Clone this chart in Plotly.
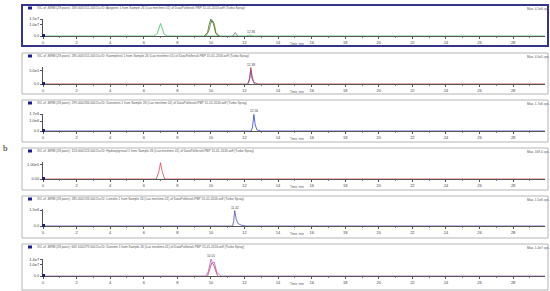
import plotly.graph_objects as go

W, H = 550, 291

# ---- data ----
titles = [
    "XIC of -MRM (28 pairs): 269.000/151.000 Da ID: Apigenin 1 from Sample 26 (Luo meshme 01) of DataPolifenoli.PBP 15-01-2016.wiff (Turbo Spray)",
    "XIC of -MRM (28 pairs): 285.000/151.000 Da ID: Kaempferol 1 from Sample 26 (Luo meshme 01) of DataPolifenoli.PBP 15-01-2016.wiff (Turbo Spray)",
    "XIC of -MRM (28 pairs): 299.000/284.000 Da ID: Diosmetin 1 from Sample 26 (Luo meshme 01) of DataPolifenoli.PBP 15-01-2016.wiff (Turbo Spray)",
    "XIC of -MRM (28 pairs): 153.000/123.000 Da ID: Hydroxytyrosol 1 from Sample 26 (Luo meshme 01) of DataPolifenoli.PBP 15-01-2016.wiff (Turbo Spray)",
    "XIC of -MRM (28 pairs): 285.000/133.000 Da ID: Luteolin 1 from Sample 26 (Luo meshme 01) of DataPolifenoli.PBP 15-01-2016.wiff (Turbo Spray)",
    "XIC of -MRM (28 pairs): 609.100/279.000 Da ID: Diosmin 1 from Sample 26 (Luo meshme 01) of DataPolifenoli.PBP 15-01-2016.wiff (Turbo Spray)",
]
max_labels = ["Max. 4.5e6 cps.", "Max. 4.0e5 cps.", "Max. 1.7e6 cps.",
              "Max. 169.0 cps.", "Max. 1.5e6 cps.", "Max. 1.4e7 cps."]

y_max = [1.5e7, 6.2e5, 1.7e6, 1.15e5, 1.6e6, 1.45e7]
y_tickvals = [[0, 1.0e7, 1.5e7], [0, 5.0e5], [0, 1.0e6, 1.7e6],
              [0, 1.0e5], [0, 1.5e6], [0, 1.0e7, 1.4e7]]
y_ticktext = [["0.0", "1.0e7", "1.5e7"], ["0.0", "5.0e5"], ["0.0", "1.0e6", "1.7e6"],
              ["0.00", "1.00e5"], ["0.0", "1.5e6"], ["0.0", "1.0e7", "1.4e7"]]
x_ticks = list(range(0, 29, 2))

# panel 1
p1_green_t = [0, 6.6, 6.8, 6.9, 7.0, 7.1, 7.2, 7.4, 12.1, 12.3, 12.5, 29.9]
p1_green_i = [0, 0, 2.0e6, 7.0e6, 1.1e7, 7.0e6, 2.0e6, 0, 0, 9.0e5, 0, 0]
p1_dark_t = [9.6, 9.8, 9.9, 10.0, 10.05, 10.1, 10.2, 10.3, 10.5]
p1_dark_i = [0, 3.0e6, 1.0e7, 1.5e7, 1.2e7, 1.35e7, 8.0e6, 2.0e6, 0]
p1_olive_t = [9.7, 9.9, 10.0, 10.1, 10.2, 10.3, 10.5]
p1_olive_i = [0, 5.0e6, 1.2e7, 1.3e7, 1.1e7, 3.0e6, 0]
p1_small_t = [11.3, 11.45, 11.6]
p1_small_i = [0, 3.0e6, 0]
# panel 2
p2_red_t = [0, 12.2, 12.3, 12.38, 12.45, 12.55, 12.8, 29.9]
p2_red_i = [0, 0, 2.0e5, 6.0e5, 3.0e5, 6.0e4, 0, 0]
p2_purple_t = [12.2, 12.3, 12.38, 12.45, 12.6]
p2_purple_i = [0, 1.5e5, 5.0e5, 2.0e5, 0]
# panel 3
p3_t = [0, 12.4, 12.48, 12.56, 12.64, 12.75, 13.0, 29.9]
p3_i = [0, 0, 4.0e5, 1.65e6, 6.0e5, 1.0e5, 0, 0]
# panel 4
p4_t = [0, 6.75, 6.9, 7.0, 7.1, 7.25, 29.9]
p4_i = [0, 0, 5.0e4, 1.1e5, 5.0e4, 0, 0]
# panel 5
p5_t = [0, 11.3, 11.36, 11.42, 11.5, 11.6, 11.8, 12.1, 29.9]
p5_i = [0, 0, 5.0e5, 1.45e6, 7.0e5, 2.5e5, 8.0e4, 0, 0]
# panel 6
p6_purple_t = [0, 9.7, 9.85, 9.95, 10.01, 10.1, 10.2, 10.35, 10.6, 29.9]
p6_purple_i = [0, 0, 4.0e6, 1.2e7, 1.45e7, 1.1e7, 1.2e7, 3.0e6, 0, 0]
p6_red_t = [9.8, 9.95, 10.05, 10.15, 10.25, 10.4]
p6_red_i = [0, 8.0e6, 1.1e7, 1.0e7, 6.0e6, 0]

peak_labels = [(12.36, 9.0e5, "12.36"), (12.38, 6.0e5, "12.38"), (12.56, 1.65e6, "12.56"),
               None, (11.42, 1.45e6, "11.42"), (10.01, 1.45e7, "10.01")]

panel_traces = [
    [(p1_green_t, p1_green_i, "#3cc45a"), (p1_olive_t, p1_olive_i, "#8a8a2a"),
     (p1_dark_t, p1_dark_i, "#2f6b2f"), (p1_small_t, p1_small_i, "#707070")],
    [(p2_red_t, p2_red_i, "#b03030"), (p2_purple_t, p2_purple_i, "#8a4aa0")],
    [(p3_t, p3_i, "#3045c8")],
    [(p4_t, p4_i, "#e04848")],
    [(p5_t, p5_i, "#5050b8")],
    [(p6_purple_t, p6_purple_i, "#b060c8"), (p6_red_t, p6_red_i, "#c04060")],
]

# ---- geometry (pixels) ----
frame_top = [5, 53, 100, 148, 196, 244]
frame_bot = [46, 94, 142, 190, 238, 290]
baseline = [36, 84, 131, 179, 226, 276]
axis_h = 17
x0_px, x1_px = 43, 545


def px(x):
    return x / W


def py(y):
    return 1 - y / H


fig = go.Figure()
layout = dict(width=W, height=H, margin=dict(l=0, r=0, t=0, b=0, pad=0), autosize=False,
              paper_bgcolor="white", plot_bgcolor="white", showlegend=False,
              font=dict(family="Liberation Sans", size=4, color="#333"))
shapes, annotations = [], []
FS = 4.0
TS = 3.2

for k in range(6):
    n = "" if k == 0 else str(k + 1)
    xa, ya = "x" + n, "y" + n
    for t, i, c in panel_traces[k]:
        fig.add_trace(go.Scatter(x=t, y=i, mode="lines", line=dict(color=c, width=0.8),
                                 xaxis=xa, yaxis=ya, hoverinfo="skip"))
    layout["xaxis" + n] = dict(domain=[px(x0_px), px(x1_px)], range=[0, 29.9], anchor=ya,
                               automargin=False,
                               tickvals=x_ticks, ticks="outside", ticklen=2, tickwidth=0.6,
                               tickcolor="#555", showline=True, linecolor="#555", linewidth=0.8,
                               showgrid=False, zeroline=False, tickfont=dict(size=FS, color="#444"),
                               minor=dict(ticks="outside", ticklen=1, dtick=1, tickcolor="#888"))
    layout["yaxis" + n] = dict(domain=[py(baseline[k]), py(baseline[k] - axis_h)],
                               range=[0, y_max[k]], anchor=xa, tickvals=y_tickvals[k],
                               automargin=False,
                               ticktext=y_ticktext[k], ticks="outside", ticklen=2, tickwidth=0.6,
                               tickcolor="#555", showline=True, linecolor="#555", linewidth=0.8,
                               showgrid=False, zeroline=False, tickfont=dict(size=FS, color="#444"))
    # frame
    if k == 0:
        shapes.append(dict(type="rect", xref="paper", yref="paper", x0=px(22), x1=px(548),
                           y0=py(frame_bot[k]), y1=py(frame_top[k]),
                           line=dict(color="#34348a", width=2)))
    else:
        shapes.append(dict(type="rect", xref="paper", yref="paper", x0=px(22), x1=px(548),
                           y0=py(frame_bot[k]), y1=py(frame_top[k]),
                           line=dict(color="#b4b4b4", width=1)))
    # navy icon next to title
    shapes.append(dict(type="rect", xref="paper", yref="paper", x0=px(28), x1=px(32),
                       y0=py(frame_top[k] + 4.5), y1=py(frame_top[k] + 1.5),
                       fillcolor="#1c1c8c", line=dict(width=0)))
    # small square at origin
    shapes.append(dict(type="rect", xref="paper", yref="paper", x0=px(42), x1=px(45),
                       y0=py(baseline[k] + 1), y1=py(baseline[k] - 2),
                       fillcolor="#20206a", line=dict(width=0)))
    annotations.append(dict(text=titles[k], xref="paper", yref="paper", x=px(35), y=py(frame_top[k] + 3),
                            xanchor="left", yanchor="middle", showarrow=False,
                            font=dict(size=TS, color="#555")))
    annotations.append(dict(text=max_labels[k], xref="paper", yref="paper", x=px(525), y=py(frame_top[k] + 4),
                            xanchor="left", yanchor="middle", showarrow=False,
                            font=dict(size=TS, color="#555")))
    annotations.append(dict(text="Time, min", xref="paper", yref="paper", x=px(288), y=py(baseline[k] + 7.5),
                            xanchor="left", yanchor="middle", showarrow=False,
                            font=dict(size=TS, color="#555")))
    if peak_labels[k] is not None:
        t, v, s = peak_labels[k]
        annotations.append(dict(text=s, x=t, y=v, xref=xa, yref=ya, xanchor="center", yanchor="bottom",
                                showarrow=False, yshift=-1, font=dict(size=TS, color="#444")))

annotations.append(dict(text="b", xref="paper", yref="paper", x=px(5), y=py(148), xanchor="center",
                        yanchor="middle", showarrow=False,
                        font=dict(family="Liberation Serif", size=9, color="#222")))

layout["shapes"] = shapes
layout["annotations"] = annotations
fig.update_layout(**layout)
# the page body has a default 8px margin; drop it so the figure sits at the window corner
fig.write_html("out.html", config={"displayModeBar": False},
               post_script="document.body.style.margin='0';")
